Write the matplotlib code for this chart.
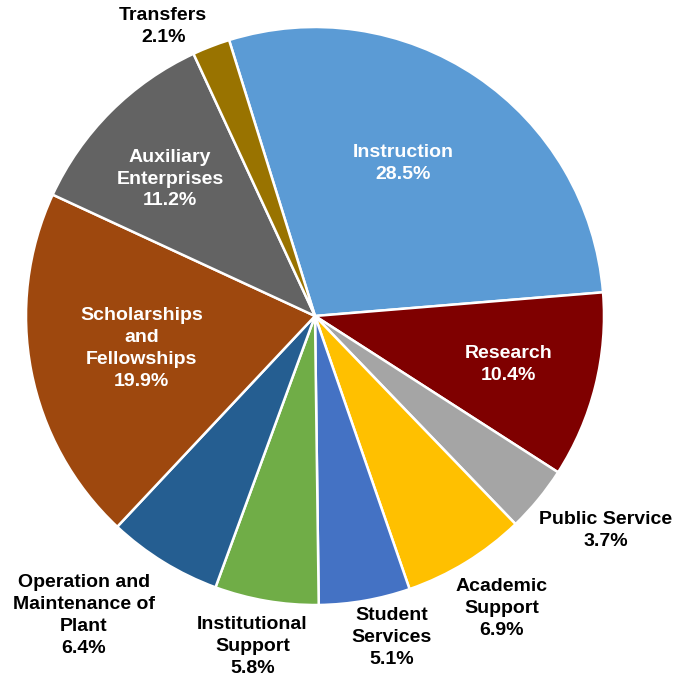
import numpy as np
import matplotlib.pyplot as plt

plt.rcParams['font.family'] = ['Liberation Sans', 'DejaVu Sans']

# spending categories, clockwise from the top
categories = ['Instruction', 'Research', 'Public Service', 'Academic\nSupport',
              'Student\nServices', 'Institutional\nSupport',
              'Operation and\nMaintenance of\nPlant', 'Scholarships\nand\nFellowships',
              'Auxiliary\nEnterprises', 'Transfers']
shares = [28.5, 10.4, 3.7, 6.9, 5.1, 5.8, 6.4, 19.9, 11.2, 2.1]
colors = ['#5B9BD5', '#7F0000', '#A5A5A5', '#FFC000', '#4472C4',
          '#70AD47', '#255E91', '#9E480E', '#636363', '#997300']

# label placement: distance from centre (in radii), angle nudge (deg), text colour
label_dist = [0.61, 0.69, 1.25, 1.20, 1.145, 1.165, 1.31, 0.61, 0.69, 1.13]
label_nudge = [4, 0, 3, 1, 3.5, -1, -6, -0.3, 1.6, 6.6]
label_color = ['white', 'white', 'black', 'black', 'black', 'black', 'black',
               'white', 'white', 'black']

fig = plt.figure(figsize=(6.85, 6.79), dpi=100)
ax = fig.add_axes([0, 0, 1, 1])

cx, cy, r = 315, 363, 289
wedges, _ = ax.pie(shares, colors=colors, startangle=107.3, counterclock=False,
                   center=(cx, cy), radius=r, frame=True,
                   wedgeprops=dict(edgecolor='white', linewidth=1.8))
ax.set_xlim(0, 685)
ax.set_ylim(0, 679)
ax.set_aspect('equal')
ax.axis('off')

for w, name, val, d, nudge, tc in zip(wedges, categories, shares, label_dist,
                                       label_nudge, label_color):
    ang = np.deg2rad((w.theta1 + w.theta2) / 2 + nudge)
    x = cx + d * r * np.cos(ang)
    y = cy + d * r * np.sin(ang)
    ax.text(x, y, f'{name}\n{val:.1f}%', ha='center', va='center',
            fontsize=14, fontweight='bold', color=tc, linespacing=1.38)

fig.savefig('out.png', dpi=100)
